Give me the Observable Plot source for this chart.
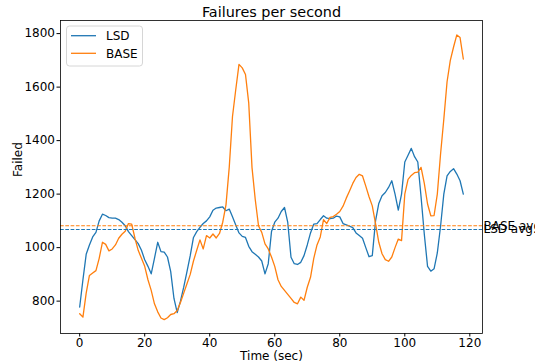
<!DOCTYPE html>
<html>
<head>
<meta charset="utf-8">
<script src="https://cdn.jsdelivr.net/npm/d3@7"></script>
<script src="https://cdn.jsdelivr.net/npm/@observablehq/plot@0.6"></script>
<style>
  html, body { margin: 0; padding: 0; background: #fff; }
</style>
</head>
<body>
<div id="chart"></div>
<script>
// Seconds 0..118
const seconds = d3.range(0, 119);

const lsd = [
  778, 880, 975, 1010, 1040, 1057, 1100, 1125, 1120, 1112,
  1110, 1110, 1105, 1095, 1082, 1060, 1045, 1030, 1015, 990,
  955, 930, 902, 960, 1020, 985, 983, 965, 910, 810,
  757, 800, 852, 910, 970, 1038, 1060, 1076, 1090, 1100,
  1115, 1140, 1148, 1150, 1152, 1138, 1144, 1115, 1085, 1055,
  1042, 1038, 1005, 985, 975, 965, 950, 902, 940, 1060,
  1095, 1110, 1135, 1150, 1094, 964, 940, 937, 945, 970,
  1010, 1055, 1088, 1090, 1105, 1119, 1110, 1108, 1110, 1118,
  1115, 1090, 1085, 1080, 1075, 1055, 1045, 1035, 1000, 966,
  970, 1100, 1165, 1194, 1206, 1225, 1250, 1200, 1140, 1200,
  1320, 1345, 1371, 1340, 1320, 1190, 1050, 930, 912, 921,
  980, 1080, 1200, 1268, 1285, 1295, 1275, 1250, 1200
];

const base = [
  753, 740, 830, 896, 905, 914, 960, 1020, 1012, 988,
  995, 1010, 1035, 1050, 1061, 1090, 1088, 1035, 990, 960,
  930, 880, 840, 790, 760, 737, 731, 738, 750, 753,
  765, 795, 830, 865, 900, 950, 990, 1029, 995, 1045,
  1036, 1051, 1036, 1053, 1095, 1160, 1300, 1490, 1590, 1685,
  1672, 1647, 1540, 1300, 1180, 1082, 1057, 1014, 995, 965,
  930, 880, 855, 840, 825, 810, 795, 790, 815, 803,
  852, 889, 960, 1010, 1040, 1105, 1090, 1113, 1116, 1125,
  1135, 1155, 1185, 1212, 1240, 1262, 1274, 1268, 1230, 1190,
  1156, 1090, 1020, 977, 955, 949, 965, 1000, 1032, 1026,
  1200, 1255, 1270, 1280, 1282, 1300, 1240, 1163, 1119, 1120,
  1200, 1350, 1480, 1620, 1700, 1750, 1795, 1785, 1705
];

const seriesNames = ["LSD", "BASE"];
const seriesColors = ["#1f77b4", "#ff7f0e"];
const averages = [1068, 1082]; // LSD avg., BASE avg.
const avgLabels = ["LSD avg.", "BASE avg."];
const xTicks = [0, 20, 40, 60, 80, 100, 120];
const yTicks = [800, 1000, 1200, 1400, 1600, 1800];

const lsdData = seconds.map((t, i) => ({t, v: lsd[i]}));
const baseData = seconds.map((t, i) => ({t, v: base[i]}));

const font = "DejaVu Sans, sans-serif";

const chart = Plot.plot({
  width: 535,
  height: 363,
  marginLeft: 60,
  marginRight: 53,
  marginTop: 20,
  marginBottom: 30,
  style: {fontFamily: font, fontSize: "12px", background: "#fff", color: "#000", overflow: "visible"},
  x: {domain: [-5.9, 123.9]},
  y: {domain: [679, 1849]},
  marks: [
    Plot.axisX({ticks: xTicks, tickSize: 3.5, tickPadding: 1.5, tickFormat: d3.format("d"), label: null, fontSize: 12, stroke: "#000"}),
    Plot.axisY({ticks: yTicks, tickSize: 3.5, tickPadding: 2, tickFormat: d3.format("d"), label: null, fontSize: 12, stroke: "#000"}),
    Plot.line(lsdData, {x: "t", y: "v", stroke: seriesColors[0], strokeWidth: 1.3}),
    Plot.line(baseData, {x: "t", y: "v", stroke: seriesColors[1], strokeWidth: 1.3}),
    Plot.ruleY([averages[1]], {stroke: seriesColors[1], strokeWidth: 1.1, strokeDasharray: "3.7,1.6"}),
    Plot.ruleY([averages[0]], {stroke: seriesColors[0], strokeWidth: 1.1, strokeDasharray: "3.7,1.6"}),
    Plot.text([averages[1]], {y: d => d, text: () => avgLabels[1], frameAnchor: "right", textAnchor: "start", dx: 1, lineAnchor: "middle", fontSize: 12, fill: "#000"}),
    Plot.text([averages[0]], {y: d => d, text: () => avgLabels[0], frameAnchor: "right", textAnchor: "start", dx: 1, lineAnchor: "middle", fontSize: 12, fill: "#000"}),
    Plot.frame({stroke: "#000", strokeWidth: 0.8}),
    Plot.text(["Failures per second"], {frameAnchor: "top", dy: -8.1, lineAnchor: "middle", fontSize: 14.4, fill: "#000"}),
    Plot.text(["Time (sec)"], {frameAnchor: "bottom", dy: 23, lineAnchor: "middle", fontSize: 12, fill: "#000"}),
    Plot.text(["Failed"], {frameAnchor: "left", dx: -42, rotate: -90, lineAnchor: "middle", fontSize: 12, fill: "#000"})
  ]
});

// Legend (upper left, matplotlib style)
const svg = d3.select(chart);
const lg = svg.append("g").attr("font-family", font).attr("font-size", 12).attr("text-anchor", "start");
lg.append("rect")
  .attr("x", 66.5).attr("y", 26).attr("width", 76).attr("height", 40)
  .attr("rx", 3).attr("fill", "#fff").attr("fill-opacity", 0.8)
  .attr("stroke", "#cccccc").attr("stroke-width", 0.8);
seriesNames.forEach((name, i) => {
  const y = 35.7 + i * 17.6;
  lg.append("line").attr("x1", 71).attr("x2", 96).attr("y1", y).attr("y2", y)
    .attr("stroke", seriesColors[i]).attr("stroke-width", 1.3);
  lg.append("text").attr("x", 106).attr("y", y + 4.3).attr("fill", "#000")
    .attr("text-anchor", "start").text(name);
});

document.getElementById("chart").appendChild(chart);
</script>
</body>
</html>
